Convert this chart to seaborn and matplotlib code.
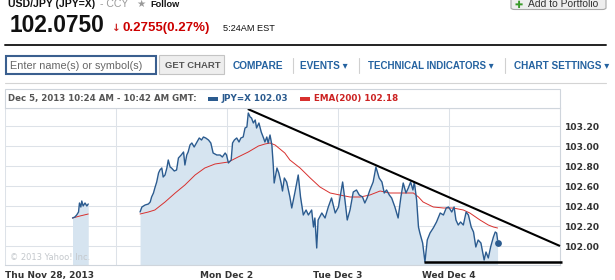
import matplotlib
matplotlib.use("Agg")
import matplotlib.pyplot as plt
import seaborn as sns
import pandas as pd
from matplotlib.lines import Line2D
from matplotlib.patches import Rectangle, FancyBboxPatch

# ---------------- data (hours since Thu Nov 28 00:00) ----------------
nov28_hours = [14.6, 15.1, 15.5, 15.9, 16.1, 16.4, 16.6, 16.9, 17.3, 17.7, 18.0]
nov28_price = [102.28, 102.29, 102.31, 102.34, 102.43, 102.39, 102.45, 102.40, 102.43, 102.40, 102.42]

main_hours = [
    29.2, 29.6, 30.3, 31.0, 31.4, 31.7, 32.1, 32.4, 32.8, 33.2,
    33.5, 33.9, 34.2, 34.6, 35.0, 35.3, 35.7, 36.0, 36.6, 37.1,
    37.5, 38.1, 38.6, 38.9, 39.3, 39.6, 40.0, 40.4, 40.9, 41.5,
    42.0, 42.5, 42.9, 43.4, 44.0, 44.5, 45.0, 45.8, 46.5, 47.0,
    47.6, 47.9, 48.3, 48.9, 49.2, 49.6, 50.1, 50.6, 51.0, 51.5,
    51.9, 52.3, 52.6, 53.0, 53.3, 53.7, 54.1, 54.4, 54.9, 55.4,
    55.9, 56.2, 56.6, 56.9, 57.3, 57.7, 58.0, 58.2, 58.8, 59.2,
    59.7, 60.0, 60.4, 60.9, 61.6, 62.0, 62.7, 63.4, 63.9, 64.5,
    65.1, 65.6, 66.3, 66.7, 67.0, 67.4, 67.7, 68.5, 69.2, 69.9,
    70.6, 71.4, 72.1, 72.6, 73.0, 73.5, 74.0, 74.6, 75.3, 76.0,
    76.6, 77.3, 77.8, 78.3, 78.9, 79.6, 80.2, 80.9, 81.5, 82.0,
    82.5, 83.1, 83.6, 84.3, 85.0, 85.6, 86.1, 86.7, 87.2, 87.7,
    88.2, 88.5, 89.0, 89.4, 89.7, 90.3, 90.8, 91.3, 91.9, 92.6,
    93.3, 94.1, 94.8, 95.4, 95.9, 96.6, 97.1, 97.5, 98.0, 98.5,
    99.1, 99.7, 100.2, 100.8, 101.3, 101.8, 102.3, 102.9, 103.3, 103.6,
    104.0, 104.5, 105.0, 105.6, 106.0, 106.3, 106.5]
main_price = [
    102.34, 102.39, 102.41, 102.42, 102.44, 102.49, 102.53, 102.58, 102.64, 102.73,
    102.76, 102.78, 102.69, 102.71, 102.78, 102.86, 102.79, 102.78, 102.75, 102.76,
    102.88, 102.91, 102.94, 102.81, 102.91, 102.94, 103.01, 103.03, 102.99, 103.04,
    103.08, 103.06, 103.09, 103.08, 103.06, 103.03, 102.93, 102.91, 102.91, 102.89,
    102.93, 102.91, 102.83, 102.86, 103.03, 103.06, 103.08, 103.04, 103.08, 103.09,
    103.18, 103.19, 103.33, 103.29, 103.28, 103.23, 103.26, 103.18, 103.23, 103.14,
    103.08, 103.04, 103.09, 103.03, 103.11, 103.01, 102.81, 102.63, 102.78, 102.73,
    102.63, 102.55, 102.68, 102.64, 102.49, 102.38, 102.54, 102.71, 102.49, 102.31,
    102.36, 102.31, 102.36, 102.19, 102.28, 101.98, 102.26, 102.33, 102.28, 102.39,
    102.48, 102.33, 102.39, 102.53, 102.64, 102.46, 102.26, 102.36, 102.54, 102.56,
    102.51, 102.49, 102.43, 102.48, 102.56, 102.64, 102.79, 102.68, 102.64, 102.53,
    102.56, 102.51, 102.48, 102.39, 102.28, 102.49, 102.63, 102.53, 102.58, 102.64,
    102.56, 102.64, 102.46, 102.19, 102.13, 102.03, 101.84, 102.06, 102.13, 102.18,
    102.24, 102.33, 102.31, 102.38, 102.39, 102.34, 102.39, 102.26, 102.21, 102.24,
    102.21, 102.34, 102.31, 102.19, 102.14, 101.99, 102.06, 102.03, 101.93, 101.86,
    101.94, 101.88, 101.99, 102.09, 102.14, 102.13, 102.06]

ema_nov28_hours = [14.6, 16.2, 18.0]
ema_nov28 = [102.28, 102.30, 102.32]
ema_hours = [
    29.2, 31.0, 32.4, 34.6, 36.8, 38.9, 41.1, 43.2, 45.4, 48.3,
    50.4, 52.6, 54.8, 56.2, 57.3, 58.4, 60.5, 61.6, 63.8, 66.0,
    68.1, 70.3, 72.4, 74.6, 76.8, 78.9, 81.1, 83.2, 85.4, 88.3,
    89.4, 90.4, 92.6, 94.8, 96.9, 99.1, 100.5, 102.7, 104.5, 105.6,
    106.5]
ema_values = [
    102.32, 102.34, 102.36, 102.44, 102.53, 102.61, 102.71, 102.78, 102.82, 102.84,
    102.89, 102.94, 103.00, 103.02, 103.03, 103.01, 102.93, 102.86, 102.78, 102.68,
    102.59, 102.53, 102.51, 102.49, 102.49, 102.51, 102.55, 102.53, 102.53, 102.53,
    102.49, 102.44, 102.39, 102.38, 102.38, 102.36, 102.33, 102.26, 102.21, 102.19,
    102.18]

last_hour, last_price = 106.66, 102.03
resistance_hours = [52.5, 120.0]
resistance_price = [103.37, 102.00]
support_hours = [90.6, 120.4]
support_price = [101.84, 101.84]

day_ticks = [0, 24, 48, 72, 96]
day_labels = ["Thu Nov 28, 2013", "", "Mon Dec 2", "Tue Dec 3", "Wed Dec 4"]
price_ticks = [102.00, 102.20, 102.40, 102.60, 102.80, 103.00, 103.20]

# ---------------- figure ----------------
sns.set_style("white")
plt.rcParams["font.family"] = ["DejaVu Sans"]
HEAD = ["Liberation Sans", "DejaVu Sans"]

W, H = 615, 280
fig = plt.figure(figsize=(W / 100, H / 100), dpi=100)
fig.patch.set_facecolor("white")

def X(x):
    return x / W

def Y(y):
    return 1 - y / H

def ftext(x, y, s, **kw):
    kw.setdefault("va", "baseline")
    fig.text(X(x), Y(y), s, **kw)

def hline(x0, x1, y, **kw):
    fig.add_artist(Line2D([X(x0), X(x1)], [Y(y), Y(y)], transform=fig.transFigure, **kw))

def vline(x, y0, y1, **kw):
    fig.add_artist(Line2D([X(x), X(x)], [Y(y0), Y(y1)], transform=fig.transFigure, **kw))

def rect(x0, y0, x1, y1, **kw):
    fig.add_artist(Rectangle((X(x0), Y(y1)), X(x1) - X(x0), Y(y0) - Y(y1),
                             transform=fig.transFigure, **kw))

# header
ftext(8, 6.7, "USD/JPY (JPY=X)", family=HEAD, weight="bold", size=7.6, color="#111111")
ftext(100.5, 6.7, "- CCY", family=HEAD, size=7.6, color="#999999")
ftext(136.5, 7, "\u2605", family=["DejaVu Sans"], size=7.5, color="#999999")
ftext(150, 6.7, "Follow", family=HEAD, weight="bold", size=6.6, color="#111111")
ftext(10, 32, "102.0750", family=HEAD, weight="bold", size=16.4, color="#111111")
ftext(112, 31, "\u2193", family=["DejaVu Sans"], weight="bold", size=7.5, color="#cc2222")
ftext(122.5, 31, "0.2755(0.27%)", family=HEAD, weight="bold", size=9.5, color="#cc0000")
ftext(223, 31, "5:24AM EST", family=HEAD, size=6.6, color="#111111")

fig.add_artist(FancyBboxPatch((X(511), Y(9.5)), X(606) - X(511), Y(-6) - Y(9.5),
                              boxstyle="round,pad=0,rounding_size=0.006",
                              transform=fig.transFigure, facecolor="#eeeeee",
                              edgecolor="#a8a8a8", lw=0.8))
ftext(514.5, 8, "\u271a", family=["DejaVu Sans"], size=7, color="#3a9a2a")
ftext(528, 7, "Add to Portfolio", family=HEAD, size=7.4, color="#333333")

hline(5, 606, 45, color="#222222", lw=1.4)

# toolbar
rect(6, 56, 156, 74, facecolor="white", edgecolor="#3a5f8f", lw=1.5)
ftext(9.5, 65.5, "Enter name(s) or symbol(s)", family=HEAD, size=7.8, color="#666666", va="center")
rect(159, 55.5, 224, 74.5, facecolor="#eeeeee", edgecolor="#c4c4c4", lw=0.8)
ftext(165, 65.5, "GET CHART", family=HEAD, weight="bold", size=6.8, color="#555555", va="center")
NAV = "#2462a0"
ftext(233, 65.5, "COMPARE", family=HEAD, weight="bold", size=7.3, color=NAV, va="center")
vline(293, 58, 73, color="#d0d0d0", lw=0.8)
ftext(300, 65.5, "EVENTS \u25be", family=HEAD, weight="bold", size=7.2, color=NAV, va="center")
vline(359, 58, 73, color="#d0d0d0", lw=0.8)
ftext(368, 65.5, "TECHNICAL INDICATORS \u25be", family=HEAD, weight="bold", size=7.0, color=NAV, va="center")
vline(505, 58, 73, color="#d0d0d0", lw=0.8)
ftext(514, 65.5, "CHART SETTINGS \u25be", family=HEAD, weight="bold", size=7.2, color=NAV, va="center")
hline(5, 606, 83, color="#d4d4d4", lw=0.8)

# legend bar
rect(5, 89, 560, 107.5, facecolor="white", edgecolor="#cfd5dc", lw=0.8)
ftext(8.3, 98.5, "Dec 5, 2013 10:24 AM - 10:42 AM GMT:", weight="bold", size=6.2,
      color="#555555", va="center")
BLUE = "#2b5b8f"
RED = "#d8302e"
rect(208, 96.5, 218, 100.5, facecolor=BLUE, edgecolor="none")
ftext(222, 98.5, "JPY=X 102.03", weight="bold", size=6.3, color=BLUE, va="center")
rect(300, 96.5, 310, 100.5, facecolor=RED, edgecolor="none")
ftext(314, 98.5, "EMA(200) 102.18", weight="bold", size=6.3, color="#cc2222", va="center")

# chart axes
ax = fig.add_axes([X(5), Y(265), X(560) - X(5), Y(107.5) - Y(265)])
ymin, ymax = 101.81, 103.385
ax.set_xlim(0, 120)
ax.set_ylim(ymin, ymax)

price_df = pd.DataFrame({
    "hour": nov28_hours + main_hours,
    "price": nov28_price + main_price,
    "seg": [0] * len(nov28_hours) + [1] * len(main_hours),
})
ema_df = pd.DataFrame({
    "hour": ema_nov28_hours + ema_hours,
    "ema": ema_nov28 + ema_values,
    "seg": [0] * len(ema_nov28_hours) + [1] * len(ema_hours),
})

FILL = "#d6e4f0"
ax.fill_between(nov28_hours, nov28_price, ymin, color=FILL, lw=0, zorder=1)
ax.fill_between(main_hours, main_price, ymin, color=FILL, lw=0, zorder=1)
sns.lineplot(data=ema_df, x="hour", y="ema", units="seg", estimator=None,
             color=RED, lw=0.7, ax=ax, zorder=3)
sns.lineplot(data=price_df, x="hour", y="price", units="seg", estimator=None,
             color=BLUE, lw=1.0, ax=ax, zorder=4)
ax.scatter([last_hour], [last_price], s=24, color=BLUE, zorder=6, linewidths=0)
ax.plot(resistance_hours, resistance_price, color="black", lw=1.5, zorder=5,
        clip_on=False, solid_capstyle="butt")
ax.plot(support_hours, support_price, color="black", lw=1.8, zorder=5,
        clip_on=False, solid_capstyle="butt")

ax.set_xlabel("")
ax.set_ylabel("")
ax.set_xticks(day_ticks)
ax.set_xticklabels(day_labels)
ax.set_yticks(price_ticks)
ax.set_yticklabels([f"{v:.2f}" for v in price_ticks])
ax.yaxis.tick_right()
ax.grid(True, color="#dde2e8", lw=0.75)
ax.set_axisbelow(True)
ax.tick_params(axis="y", length=0, pad=3.4, labelsize=6.6, labelcolor="#333333")
ax.tick_params(axis="x", length=0, pad=4.4, labelsize=6.5, labelcolor="#333333")
for lab in ax.get_yticklabels() + ax.get_xticklabels():
    lab.set_fontweight("bold")
ax.get_xticklabels()[0].set_ha("left")
for side in ["top", "right", "bottom"]:
    ax.spines[side].set_color("#cfd5dc")
    ax.spines[side].set_linewidth(0.8)
ax.spines["left"].set_visible(False)

ftext(10, 257.5, "\u00a9 2013 Yahoo! Inc.", size=6, color="#c4c8cc", va="center")

fig.savefig("out.png", dpi=100)
